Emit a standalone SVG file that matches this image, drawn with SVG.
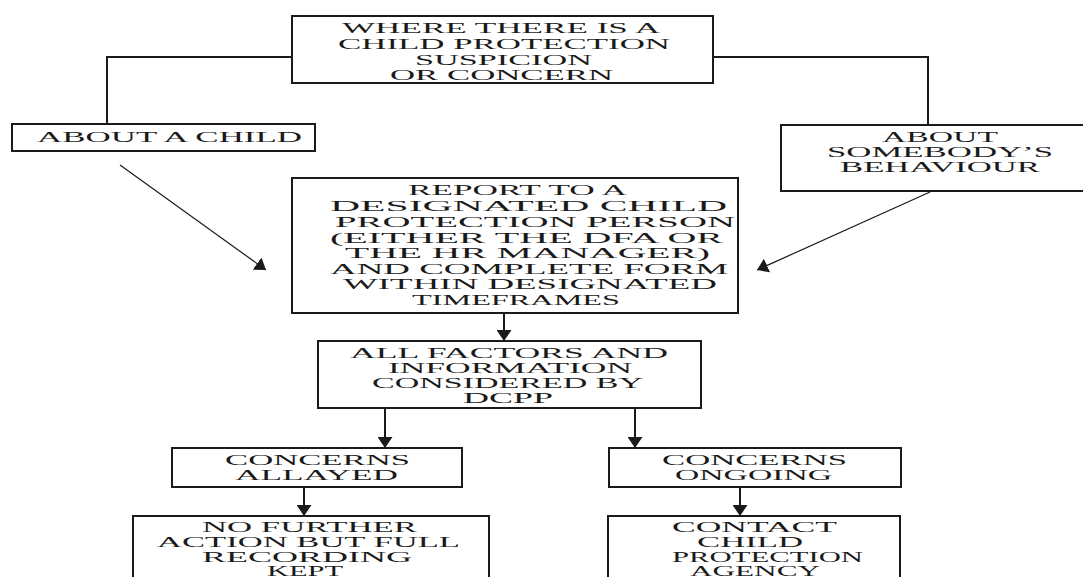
<svg xmlns="http://www.w3.org/2000/svg" width="1083" height="577" viewBox="0 0 1083 577">
<style>
.box{fill:#fff;stroke:#1a1a1a;stroke-width:2}
.t{font-family:"Liberation Serif","Times New Roman",serif;font-size:15px;fill:#1a1a1a}
.c{fill:none;stroke:#1a1a1a;stroke-width:2}
.d{fill:none;stroke:#1a1a1a;stroke-width:1.2}
</style>
<defs>
<marker id="ah" markerUnits="userSpaceOnUse" markerWidth="11" markerHeight="15" refX="11" refY="7.5" orient="auto">
<path d="M0,0 L11,7.5 L0,15 z" fill="#1a1a1a"/>
</marker>
</defs>
<rect width="1083" height="577" fill="#fff"/>
<g id="connectors">
<polyline class="c" points="292,57 107,57 107,124"/>
<polyline class="c" points="713,57 928,57 928,125"/>
<line class="d" x1="120" y1="165" x2="266" y2="270" marker-end="url(#ah)"/>
<line class="d" x1="930" y1="192" x2="757" y2="270" marker-end="url(#ah)"/>
<line class="c" x1="504" y1="313" x2="504" y2="341" marker-end="url(#ah)"/>
<line class="c" x1="385" y1="408" x2="385" y2="448" marker-end="url(#ah)"/>
<line class="c" x1="635" y1="408" x2="635" y2="448" marker-end="url(#ah)"/>
<line class="c" x1="304" y1="487" x2="304" y2="516" marker-end="url(#ah)"/>
<line class="c" x1="740" y1="487" x2="740" y2="516" marker-end="url(#ah)"/>
</g>
<g id="n-where">
<rect class="box" x="292" y="16" width="421" height="67"/>
<text class="t" x="342" y="33" textLength="318" lengthAdjust="spacingAndGlyphs">WHERE THERE IS A</text>
<text class="t" x="338" y="49" textLength="332" lengthAdjust="spacingAndGlyphs">CHILD PROTECTION</text>
<text class="t" x="415" y="65" textLength="177" lengthAdjust="spacingAndGlyphs">SUSPICION</text>
<text class="t" x="390" y="80" textLength="223" lengthAdjust="spacingAndGlyphs">OR CONCERN</text>
</g>
<g id="n-child">
<rect class="box" x="12" y="124" width="303" height="27"/>
<text class="t" x="37" y="142" textLength="265" lengthAdjust="spacingAndGlyphs">ABOUT A CHILD</text>
</g>
<g id="n-behaviour">
<rect class="box" x="781" y="125" width="320" height="66"/>
<text class="t" x="882" y="142" textLength="116" lengthAdjust="spacingAndGlyphs">ABOUT</text>
<text class="t" x="827" y="157" textLength="226" lengthAdjust="spacingAndGlyphs">SOMEBODY’S</text>
<text class="t" x="840" y="172" textLength="200" lengthAdjust="spacingAndGlyphs">BEHAVIOUR</text>
</g>
<g id="n-report">
<rect class="box" x="292" y="178" width="446" height="135"/>
<text class="t" x="408" y="195" textLength="219" lengthAdjust="spacingAndGlyphs">REPORT TO A</text>
<text class="t" x="330" y="211" textLength="397" lengthAdjust="spacingAndGlyphs">DESIGNATED CHILD</text>
<text class="t" x="335" y="227" textLength="400" lengthAdjust="spacingAndGlyphs">PROTECTION PERSON</text>
<text class="t" x="330" y="243" textLength="393" lengthAdjust="spacingAndGlyphs">(EITHER THE DFA OR</text>
<text class="t" x="345" y="258" textLength="365" lengthAdjust="spacingAndGlyphs">THE HR MANAGER)</text>
<text class="t" x="330" y="274" textLength="398" lengthAdjust="spacingAndGlyphs">AND COMPLETE FORM</text>
<text class="t" x="343" y="289" textLength="374" lengthAdjust="spacingAndGlyphs">WITHIN DESIGNATED</text>
<text class="t" x="412" y="305" textLength="208" lengthAdjust="spacingAndGlyphs">TIMEFRAMES</text>
</g>
<g id="n-factors">
<rect class="box" x="318" y="341" width="383" height="67"/>
<text class="t" x="350" y="358" textLength="318" lengthAdjust="spacingAndGlyphs">ALL FACTORS AND</text>
<text class="t" x="388" y="373" textLength="244" lengthAdjust="spacingAndGlyphs">INFORMATION</text>
<text class="t" x="372" y="388" textLength="271" lengthAdjust="spacingAndGlyphs">CONSIDERED BY</text>
<text class="t" x="463" y="403" textLength="90" lengthAdjust="spacingAndGlyphs">DCPP</text>
</g>
<g id="n-allayed">
<rect class="box" x="172" y="448" width="290" height="39"/>
<text class="t" x="225" y="465" textLength="185" lengthAdjust="spacingAndGlyphs">CONCERNS</text>
<text class="t" x="235" y="480" textLength="163" lengthAdjust="spacingAndGlyphs">ALLAYED</text>
</g>
<g id="n-ongoing">
<rect class="box" x="609" y="448" width="292" height="39"/>
<text class="t" x="662" y="465" textLength="185" lengthAdjust="spacingAndGlyphs">CONCERNS</text>
<text class="t" x="675" y="480" textLength="157" lengthAdjust="spacingAndGlyphs">ONGOING</text>
</g>
<g id="n-nofurther">
<rect class="box" x="133" y="516" width="356" height="90"/>
<text class="t" x="202" y="532" textLength="215" lengthAdjust="spacingAndGlyphs">NO FURTHER</text>
<text class="t" x="157" y="547" textLength="303" lengthAdjust="spacingAndGlyphs">ACTION BUT FULL</text>
<text class="t" x="202" y="562" textLength="210" lengthAdjust="spacingAndGlyphs">RECORDING</text>
<text class="t" x="267" y="576" textLength="76" lengthAdjust="spacingAndGlyphs">KEPT</text>
</g>
<g id="n-contact">
<rect class="box" x="608" y="516" width="292" height="90"/>
<text class="t" x="672" y="532" textLength="165" lengthAdjust="spacingAndGlyphs">CONTACT</text>
<text class="t" x="697" y="547" textLength="106" lengthAdjust="spacingAndGlyphs">CHILD</text>
<text class="t" x="672" y="562" textLength="191" lengthAdjust="spacingAndGlyphs">PROTECTION</text>
<text class="t" x="690" y="576" textLength="130" lengthAdjust="spacingAndGlyphs">AGENCY</text>
</g>
</svg>
